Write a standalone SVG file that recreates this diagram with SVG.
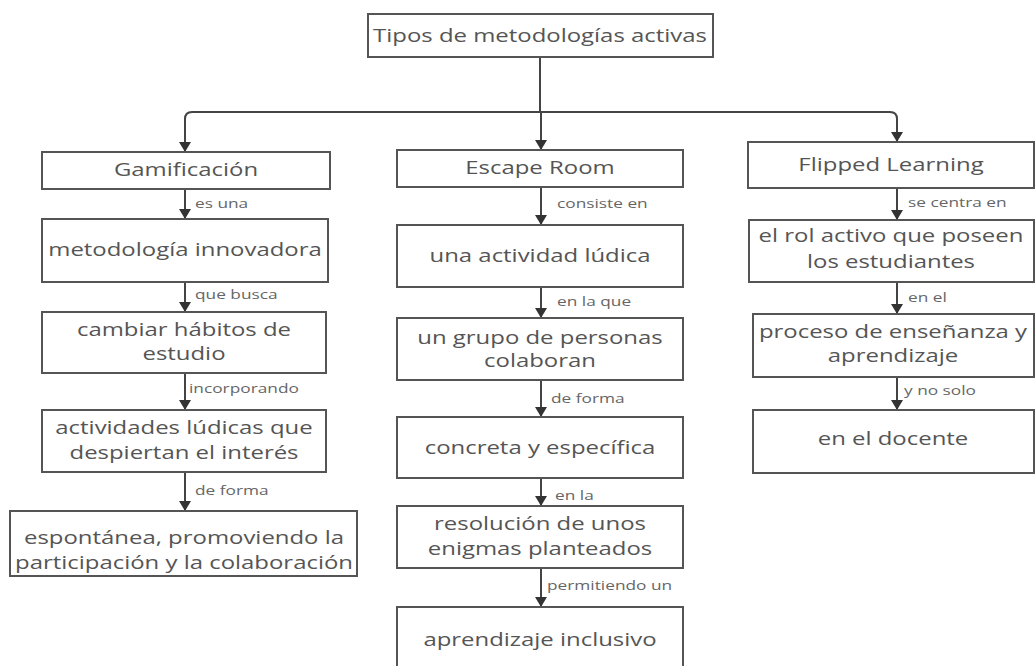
<svg xmlns="http://www.w3.org/2000/svg" width="1036" height="666" viewBox="0 0 1036 666">
<defs>
<marker id="ah" viewBox="0 0 10 12" refX="10" refY="6" markerWidth="10" markerHeight="12" markerUnits="userSpaceOnUse" orient="auto">
<path d="M0,0 L10,6 L0,12 Z" fill="#333"/>
</marker>
<style>
.box{fill:#fff;stroke:#555;stroke-width:2}
.t{font-family:"Open Sans","Liberation Sans",sans-serif;font-size:18px;fill:#555;text-anchor:middle}
.l{font-family:"Open Sans","Liberation Sans",sans-serif;font-size:13px;fill:#666}
.c{fill:none;stroke:#444;stroke-width:2}
.a{fill:none;stroke:#444;stroke-width:2;marker-end:url(#ah)}
</style>
</defs>
<rect width="1036" height="666" fill="#fff"/>
<g id="connectors">
<path class="c" d="M540,57 V112"/>
<path class="c" d="M185,125 V119 Q185,112 192,112 H890 Q897,112 897,119 V125"/>
<path class="a" d="M185,118 V152"/>
<path class="a" d="M897,118 V142"/>
<path class="a" d="M541,112 V150"/>
<path class="a" d="M185,189 V219"/>
<path class="a" d="M185,282 V312"/>
<path class="a" d="M185,373 V410"/>
<path class="a" d="M185,472 V511"/>
<path class="a" d="M541,187 V225"/>
<path class="a" d="M541,287 V318"/>
<path class="a" d="M541,380 V417"/>
<path class="a" d="M541,478 V506"/>
<path class="a" d="M541,568 V607"/>
<path class="a" d="M897,188 V220"/>
<path class="a" d="M897,282 V314"/>
<path class="a" d="M897,377 V410"/>
<text class="l" transform="matrix(1.33,0,0,1,195,0)" y="208">es una</text>
<text class="l" transform="matrix(1.33,0,0,1,195,0)" y="299">que busca</text>
<text class="l" transform="matrix(1.33,0,0,1,189,0)" y="393">incorporando</text>
<text class="l" transform="matrix(1.33,0,0,1,195,0)" y="495">de forma</text>
<text class="l" transform="matrix(1.33,0,0,1,557,0)" y="208">consiste en</text>
<text class="l" transform="matrix(1.33,0,0,1,557,0)" y="306">en la que</text>
<text class="l" transform="matrix(1.33,0,0,1,551,0)" y="403">de forma</text>
<text class="l" transform="matrix(1.33,0,0,1,555,0)" y="500">en la</text>
<text class="l" transform="matrix(1.33,0,0,1,547,0)" y="590">permitiendo un</text>
<text class="l" transform="matrix(1.33,0,0,1,908,0)" y="207">se centra en</text>
<text class="l" transform="matrix(1.33,0,0,1,908,0)" y="302">en el</text>
<text class="l" transform="matrix(1.33,0,0,1,904,0)" y="395">y no solo</text>
</g>
<g id="root"><rect class="box" x="368" y="14" width="345" height="43"/><text class="t" transform="matrix(1.33,0,0,1,540,0)" y="42">Tipos de metodologías activas</text></g>
<g id="gam"><rect class="box" x="42" y="152" width="288" height="37"/><text class="t" transform="matrix(1.33,0,0,1,186,0)" y="176">Gamificación</text></g>
<g id="gam2"><rect class="box" x="42" y="219" width="286" height="63"/><text class="t" transform="matrix(1.33,0,0,1,185,0)" y="256">metodología innovadora</text></g>
<g id="gam3"><rect class="box" x="42" y="312" width="284" height="61"/><text class="t" transform="matrix(1.33,0,0,1,184,0)" y="336">cambiar hábitos de</text><text class="t" transform="matrix(1.33,0,0,1,184,0)" y="360">estudio</text></g>
<g id="gam4"><rect class="box" x="42" y="410" width="284" height="62"/><text class="t" transform="matrix(1.33,0,0,1,184,0)" y="434">actividades lúdicas que</text><text class="t" transform="matrix(1.33,0,0,1,184,0)" y="459">despiertan el interés</text></g>
<g id="gam5"><rect class="box" x="10" y="511" width="347" height="65"/><text class="t" transform="matrix(1.33,0,0,1,184,0)" y="544">espontánea, promoviendo la</text><text class="t" transform="matrix(1.33,0,0,1,184,0)" y="569">participación y la colaboración</text></g>
<g id="esc"><rect class="box" x="397" y="150" width="286" height="37"/><text class="t" transform="matrix(1.33,0,0,1,540,0)" y="174">Escape Room</text></g>
<g id="esc2"><rect class="box" x="397" y="225" width="286" height="62"/><text class="t" transform="matrix(1.33,0,0,1,540,0)" y="262">una actividad lúdica</text></g>
<g id="esc3"><rect class="box" x="397" y="318" width="286" height="62"/><text class="t" transform="matrix(1.33,0,0,1,540,0)" y="344">un grupo de personas</text><text class="t" transform="matrix(1.33,0,0,1,540,0)" y="367">colaboran</text></g>
<g id="esc4"><rect class="box" x="397" y="417" width="286" height="61"/><text class="t" transform="matrix(1.33,0,0,1,540,0)" y="454">concreta y específica</text></g>
<g id="esc5"><rect class="box" x="397" y="506" width="286" height="62"/><text class="t" transform="matrix(1.33,0,0,1,540,0)" y="530">resolución de unos</text><text class="t" transform="matrix(1.33,0,0,1,540,0)" y="555">enigmas planteados</text></g>
<g id="esc6"><rect class="box" x="397" y="607" width="286" height="75"/><text class="t" transform="matrix(1.33,0,0,1,540,0)" y="646">aprendizaje inclusivo</text></g>
<g id="fl"><rect class="box" x="748" y="142" width="286" height="46"/><text class="t" transform="matrix(1.33,0,0,1,891,0)" y="171">Flipped Learning</text></g>
<g id="fl2"><rect class="box" x="749" y="220" width="285" height="62"/><text class="t" transform="matrix(1.33,0,0,1,891,0)" y="242">el rol activo que poseen</text><text class="t" transform="matrix(1.33,0,0,1,891,0)" y="268">los estudiantes</text></g>
<g id="fl3"><rect class="box" x="753" y="314" width="281" height="63"/><text class="t" transform="matrix(1.33,0,0,1,893,0)" y="338">proceso de enseñanza y</text><text class="t" transform="matrix(1.33,0,0,1,893,0)" y="362">aprendizaje</text></g>
<g id="fl4"><rect class="box" x="753" y="410" width="281" height="63"/><text class="t" transform="matrix(1.33,0,0,1,893,0)" y="445">en el docente</text></g>
</svg>
